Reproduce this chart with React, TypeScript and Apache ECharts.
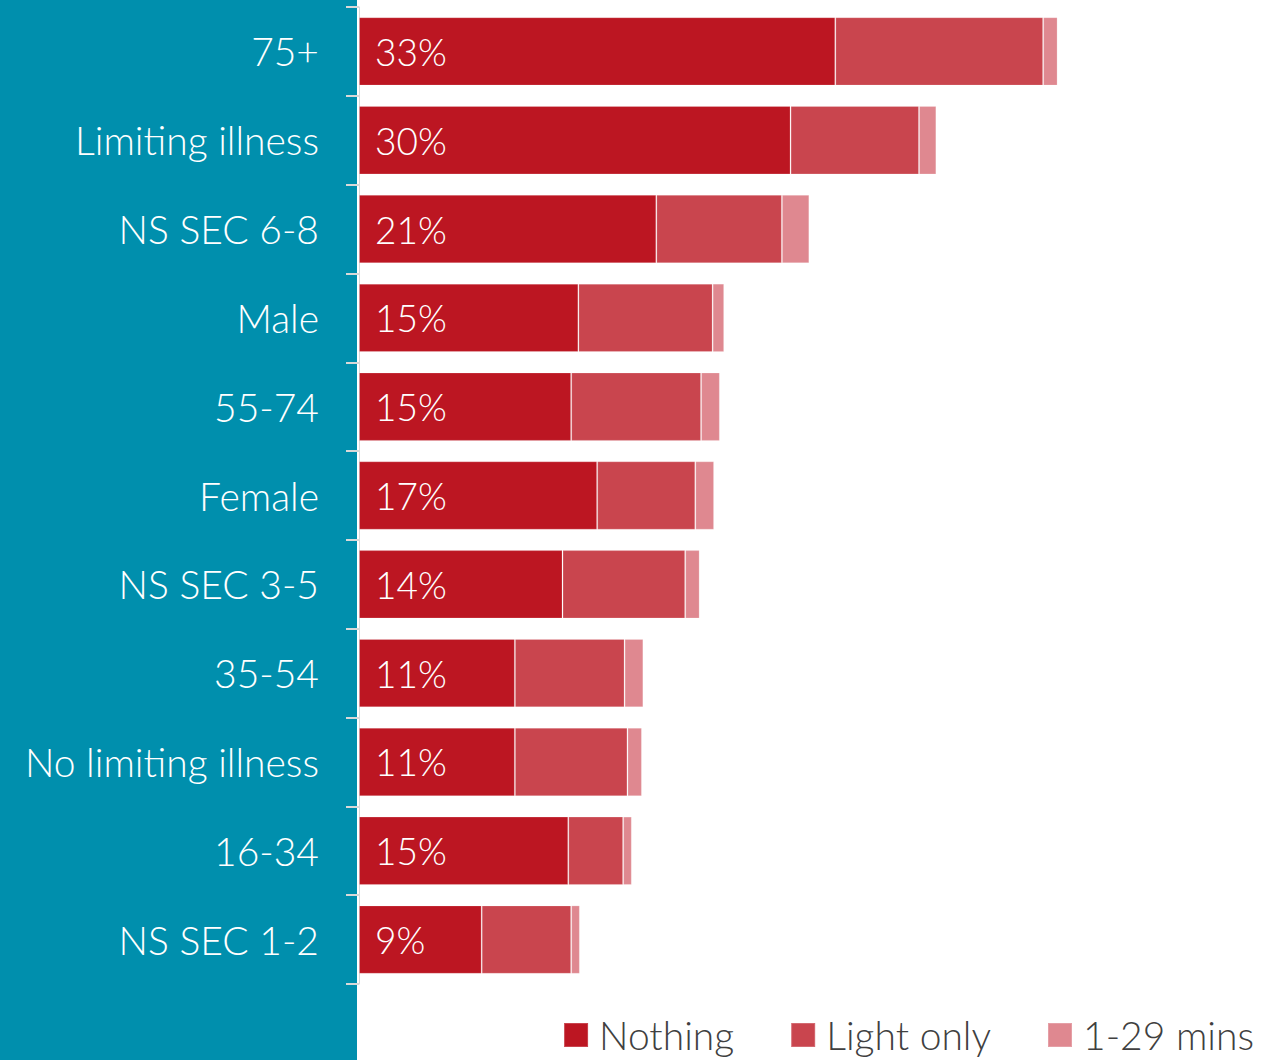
import React, { useEffect, useRef } from "react";
import * as echarts from "echarts";

const categories = [
  "75+",
  "Limiting illness",
  "NS SEC 6-8",
  "Male",
  "55-74",
  "Female",
  "NS SEC 3-5",
  "35-54",
  "No limiting illness",
  "16-34",
  "NS SEC 1-2",
];
const nothing = [33.0, 29.9, 20.6, 15.2, 14.7, 16.5, 14.1, 10.8, 10.8, 14.5, 8.5];
const lightOnly = [14.4, 8.9, 8.7, 9.3, 9.0, 6.8, 8.5, 7.6, 7.8, 3.8, 6.2];
const mins1to29 = [1.0, 1.2, 1.9, 0.8, 1.3, 1.3, 1.0, 1.3, 1.0, 0.6, 0.6];

const seriesNames = ["Nothing", "Light only", "1-29 mins"];
const colors = ["#BC1622", "#C9454E", "#DF8890"];
const FONT = "Lato";

export default function App() {
  const ref = useRef<HTMLDivElement>(null);
  useEffect(() => {
    if (!ref.current) return;
    const chart = echarts.init(ref.current, null, { renderer: "svg" });
    const border = { borderColor: "rgba(255,255,255,0.2)", borderWidth: 1 };
    chart.setOption({
      animation: false,
      backgroundColor: "#ffffff",
      graphic: [
        {
          type: "rect",
          left: 0,
          top: 0,
          z: -10,
          shape: { x: 0, y: 0, width: 357, height: 1060 },
          style: { fill: "#008FAD" },
        },
      ],
      grid: { left: 359, top: 7, width: 866, height: 977, containLabel: false },
      xAxis: {
        type: "value",
        min: 0,
        max: 60,
        show: false,
      },
      yAxis: {
        type: "category",
        data: categories,
        inverse: true,
        axisLine: { show: true, lineStyle: { color: "#D9D9D9", width: 1 } },
        axisTick: { show: true, length: 13, lineStyle: { color: "#D9D9D9", width: 2 } },
        axisLabel: {
          color: "#ffffff",
          fontSize: 39,
          fontWeight: 300,
          fontFamily: FONT,
          margin: 40,
        },
      },
      legend: {
        data: seriesNames,
        right: 10,
        bottom: 0,
        itemWidth: 24,
        itemHeight: 24,
        itemGap: 56,
        icon: "rect",
        textStyle: {
          color: "#404040",
          fontSize: 39,
          fontWeight: 300,
          fontFamily: FONT,
          lineHeight: 40,
          padding: [0, 0, 0, 6],
        },
      },
      series: [
        {
          name: seriesNames[0],
          type: "bar",
          stack: "s",
          data: nothing,
          barCategoryGap: "23%",
          itemStyle: { color: colors[0], ...border },
          label: {
            show: true,
            position: "insideLeft",
            distance: 16,
            color: "#ffffff",
            fontSize: 37,
            fontWeight: 300,
            fontFamily: FONT,
            formatter: (p: any) => Math.round(p.value) + "%",
          },
        },
        {
          name: seriesNames[1],
          type: "bar",
          stack: "s",
          data: lightOnly,
          itemStyle: { color: colors[1], ...border },
        },
        {
          name: seriesNames[2],
          type: "bar",
          stack: "s",
          data: mins1to29,
          itemStyle: { color: colors[2], ...border },
        },
      ],
    });
    return () => chart.dispose();
  }, []);
  return (
    <div
      ref={ref}
      style={{ position: "fixed", left: 0, top: 0, width: 1269, height: 1060 }}
    />
  );
}
